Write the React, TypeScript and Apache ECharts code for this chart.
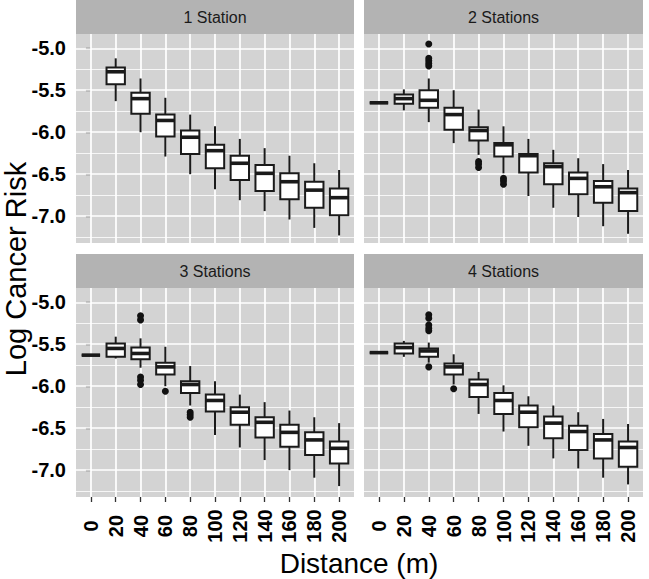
import { useEffect, useRef } from 'react';
import * as echarts from 'echarts';

const distances = ['0', '20', '40', '60', '80', '100', '120', '140', '160', '180', '200'];
const panelTitles = ['1 Station', '2 Stations', '3 Stations', '4 Stations'];
const yMajor = [-7.0, -6.5, -6.0, -5.5, -5.0];
const yMinor = [-7.25, -6.75, -6.25, -5.75, -5.25];

// [distance index, lower whisker, Q1, median, Q3, upper whisker]
const boxes1 = [
  [1, -5.63, -5.43, -5.28, -5.23, -5.12],
  [2, -6.0, -5.78, -5.6, -5.53, -5.36],
  [3, -6.29, -6.05, -5.86, -5.79, -5.59],
  [4, -6.5, -6.26, -6.06, -5.98, -5.79],
  [5, -6.68, -6.43, -6.22, -6.15, -5.93],
  [6, -6.81, -6.57, -6.37, -6.28, -6.08],
  [7, -6.94, -6.7, -6.49, -6.39, -6.19],
  [8, -7.04, -6.8, -6.59, -6.49, -6.28],
  [9, -7.14, -6.9, -6.69, -6.59, -6.37],
  [10, -7.23, -6.99, -6.78, -6.67, -6.45],
];
const boxes2 = [
  [0, -5.65, -5.65, -5.65, -5.65, -5.65],
  [1, -5.74, -5.66, -5.6, -5.55, -5.49],
  [2, -5.88, -5.71, -5.62, -5.5, -5.36],
  [3, -6.13, -5.97, -5.79, -5.71, -5.5],
  [4, -6.27, -6.1, -5.98, -5.94, -5.73],
  [5, -6.49, -6.29, -6.15, -6.13, -5.93],
  [6, -6.76, -6.48, -6.28, -6.26, -6.08],
  [7, -6.9, -6.62, -6.41, -6.37, -6.21],
  [8, -7.01, -6.74, -6.55, -6.48, -6.31],
  [9, -7.12, -6.84, -6.65, -6.58, -6.38],
  [10, -7.21, -6.94, -6.72, -6.67, -6.45],
];
const boxes3 = [
  [0, -5.63, -5.63, -5.63, -5.63, -5.63],
  [1, -5.67, -5.65, -5.55, -5.49, -5.41],
  [2, -5.78, -5.68, -5.61, -5.54, -5.43],
  [3, -6.0, -5.86, -5.77, -5.72, -5.53],
  [4, -6.23, -6.08, -5.98, -5.94, -5.76],
  [5, -6.58, -6.3, -6.17, -6.1, -5.94],
  [6, -6.73, -6.46, -6.31, -6.25, -6.1],
  [7, -6.88, -6.61, -6.43, -6.37, -6.19],
  [8, -7.0, -6.72, -6.55, -6.46, -6.29],
  [9, -7.09, -6.82, -6.64, -6.55, -6.37],
  [10, -7.19, -6.92, -6.74, -6.66, -6.44],
];
const boxes4 = [
  [0, -5.6, -5.6, -5.6, -5.6, -5.6],
  [1, -5.65, -5.61, -5.54, -5.49, -5.46],
  [2, -5.72, -5.65, -5.58, -5.55, -5.48],
  [3, -5.98, -5.86, -5.77, -5.73, -5.62],
  [4, -6.33, -6.13, -5.98, -5.92, -5.83],
  [5, -6.54, -6.33, -6.17, -6.08, -5.99],
  [6, -6.71, -6.49, -6.31, -6.23, -6.12],
  [7, -6.86, -6.62, -6.44, -6.36, -6.23],
  [8, -6.98, -6.76, -6.54, -6.47, -6.31],
  [9, -7.09, -6.86, -6.64, -6.57, -6.39],
  [10, -7.17, -6.96, -6.73, -6.66, -6.45],
];

// [distance index, value]
const outliers1: number[][] = [];
const outliers2 = [
  [2, -4.95], [2, -5.12], [2, -5.15], [2, -5.18], [2, -5.21],
  [4, -6.35], [4, -6.38], [4, -6.42],
  [5, -6.55], [5, -6.58], [5, -6.62],
];
const outliers3 = [
  [2, -5.16], [2, -5.21], [2, -5.89], [2, -5.93], [2, -5.98],
  [3, -6.06],
  [4, -6.31], [4, -6.34], [4, -6.37],
];
const outliers4 = [
  [2, -5.15], [2, -5.19], [2, -5.27], [2, -5.31], [2, -5.34], [2, -5.77],
  [3, -6.03],
];

const FONT = "'Liberation Sans', Arial, Helvetica, sans-serif";
const INK = '#1a1a1a';

export default function App() {
  const ref = useRef<HTMLDivElement>(null);

  useEffect(() => {
    if (!ref.current) return;
    const chart = echarts.init(ref.current, null, { renderer: 'svg' });

    const allBoxes = [boxes1, boxes2, boxes3, boxes4];
    const allOutliers = [outliers1, outliers2, outliers3, outliers4];
    const gridsPos = [
      { left: 76, top: 34, width: 278, height: 209 },
      { left: 364, top: 34, width: 279, height: 209 },
      { left: 76, top: 288, width: 278, height: 209 },
      { left: 364, top: 288, width: 279, height: 209 },
    ];
    const idxValues = distances.map((_, i) => i);

    const grid = gridsPos.map((g) => ({
      ...g,
      show: true,
      backgroundColor: '#d3d3d3',
      borderWidth: 0,
      containLabel: false,
    }));

    const xAxis = gridsPos.map((_, k) => {
      const bottom = k >= 2;
      return {
        type: 'value',
        gridIndex: k,
        min: -0.6,
        max: 10.6,
        splitLine: { show: false },
        axisLine: { show: false },
        axisTick: {
          show: bottom,
          customValues: idxValues,
          length: 5,
          lineStyle: { color: '#333', width: 1.3 },
        },
        axisLabel: {
          show: bottom,
          customValues: idxValues,
          formatter: (v: number) => distances[Math.round(v)],
          rotate: 90,
          align: 'center',
          verticalAlign: 'middle',
          margin: 29,
          fontFamily: FONT,
          fontWeight: 'bold',
          fontSize: 20,
          color: '#000',
        },
      };
    });

    const yAxis = gridsPos.map((_, k) => {
      const left = k % 2 === 0;
      return {
        type: 'value',
        gridIndex: k,
        min: -7.32,
        max: -4.83,
        splitLine: { show: false },
        axisLine: { show: false },
        axisTick: {
          show: left,
          customValues: yMajor,
          length: 5,
          lineStyle: { color: '#333', width: 1.3 },
        },
        axisLabel: {
          show: left,
          customValues: yMajor,
          formatter: (v: number) => v.toFixed(1),
          margin: 10,
          fontFamily: FONT,
          fontWeight: 'bold',
          fontSize: 20,
          color: '#000',
        },
      };
    });

    const series: any[] = [];
    gridsPos.forEach((_, k) => {
      series.push({
        type: 'line',
        xAxisIndex: k,
        yAxisIndex: k,
        data: [],
        z: 1,
        silent: true,
        markLine: {
          silent: true,
          symbol: ['none', 'none'],
          label: { show: false },
          z: 1,
          animation: false,
          lineStyle: { color: '#ffffff', type: 'solid' },
          emphasis: { disabled: true },
          data: [
            ...yMinor.map((v) => ({ yAxis: v, lineStyle: { width: 0.8, color: '#fff', type: 'solid' } })),
            ...yMajor.map((v) => ({ yAxis: v, lineStyle: { width: 1.7, color: '#fff', type: 'solid' } })),
            ...idxValues.map((v) => ({ xAxis: v, lineStyle: { width: 1.7, color: '#fff', type: 'solid' } })),
          ],
        },
      });
      series.push({
        type: 'custom',
        xAxisIndex: k,
        yAxisIndex: k,
        z: 3,
        silent: true,
        encode: { x: 0, y: [1, 2, 3, 4, 5] },
        data: allBoxes[k],
        renderItem: (params: any, api: any) => {
          const x = api.value(0);
          const lo = api.coord([x, api.value(1)]);
          const q1 = api.coord([x, api.value(2)]);
          const med = api.coord([x, api.value(3)]);
          const q3 = api.coord([x, api.value(4)]);
          const hi = api.coord([x, api.value(5)]);
          const half = api.size([1, 0])[0] * 0.37;
          const cx = q1[0];
          const stroke = { stroke: INK, lineWidth: 2, fill: null };
          return {
            type: 'group',
            children: [
              { type: 'line', shape: { x1: cx, y1: hi[1], x2: cx, y2: q3[1] }, style: stroke },
              { type: 'line', shape: { x1: cx, y1: q1[1], x2: cx, y2: lo[1] }, style: stroke },
              {
                type: 'rect',
                shape: { x: cx - half, y: q3[1], width: 2 * half, height: q1[1] - q3[1] },
                style: { fill: '#ffffff', stroke: INK, lineWidth: 2 },
              },
              {
                type: 'line',
                shape: { x1: cx - half, y1: med[1], x2: cx + half, y2: med[1] },
                style: { stroke: INK, lineWidth: 3.6 },
              },
            ],
          };
        },
      });
      series.push({
        type: 'scatter',
        xAxisIndex: k,
        yAxisIndex: k,
        z: 4,
        silent: true,
        symbol: 'circle',
        symbolSize: 7,
        itemStyle: { color: '#111', opacity: 1 },
        data: allOutliers[k],
      });
    });

    const strips: any[] = [];
    gridsPos.forEach((g, k) => {
      const top = g.top - 34;
      strips.push({
        type: 'rect',
        shape: { x: g.left, y: top, width: g.width, height: 34 },
        style: { fill: '#b3b3b3' },
        silent: true,
      });
      strips.push({
        type: 'text',
        x: g.left + g.width / 2,
        y: top + 17,
        style: {
          text: panelTitles[k],
          fontFamily: FONT,
          fontSize: 16,
          fill: INK,
          textAlign: 'center',
          textVerticalAlign: 'middle',
        },
        silent: true,
      });
    });
    strips.push({
      type: 'text',
      x: 359,
      y: 563,
      style: {
        text: 'Distance (m)',
        fontFamily: FONT,
        fontSize: 28,
        fill: '#000',
        textAlign: 'center',
        textVerticalAlign: 'middle',
      },
      silent: true,
    });
    strips.push({
      type: 'text',
      x: 16,
      y: 269,
      rotation: Math.PI / 2,
      style: {
        text: 'Log Cancer Risk',
        fontFamily: FONT,
        fontSize: 29,
        fill: '#000',
        textAlign: 'center',
        textVerticalAlign: 'middle',
      },
      silent: true,
    });

    chart.setOption({
      animation: false,
      backgroundColor: '#ffffff',
      grid,
      xAxis,
      yAxis,
      series,
      graphic: strips,
    });

    return () => {
      chart.dispose();
    };
  }, []);

  return (
    <div
      ref={ref}
      style={{ position: 'fixed', left: 0, top: 0, width: 649, height: 579 }}
    />
  );
}
